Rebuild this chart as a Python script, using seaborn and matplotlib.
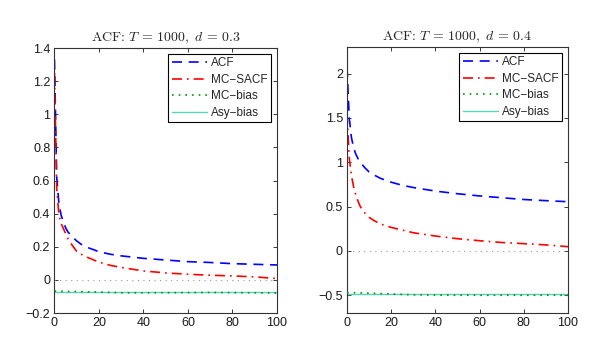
import numpy as np
import pandas as pd
import matplotlib
matplotlib.use("Agg")
import matplotlib.pyplot as plt
import seaborn as sns

sns.set_style("ticks")
plt.rcParams['font.family'] = ['Liberation Sans', 'DejaVu Sans']
plt.rcParams['mathtext.fontset'] = 'cm'
plt.rcParams['axes.unicode_minus'] = True

# ---- data ----
lags = [0, 1, 2, 3, 4, 5, 6, 8, 10, 12, 15, 20, 25, 30, 40, 50, 60, 70, 80, 90, 100]

acf_03 = [1.33, 0.62, 0.46, 0.39, 0.35, 0.315, 0.29, 0.26, 0.235, 0.215, 0.195,
          0.17, 0.155, 0.145, 0.13, 0.12, 0.11, 0.105, 0.098, 0.094, 0.09]
sacf_03 = [1.25, 0.55, 0.39, 0.34, 0.31, 0.28, 0.25, 0.208, 0.172, 0.155, 0.135,
           0.107, 0.088, 0.075, 0.054, 0.042, 0.034, 0.028, 0.024, 0.018, 0.008]
mcbias_03 = [-0.068, -0.068, -0.069, -0.069, -0.069, -0.069, -0.07, -0.07, -0.07, -0.071, -0.072,
             -0.074, -0.076, -0.078, -0.078, -0.077, -0.077, -0.076, -0.077, -0.078, -0.08]
asybias_03 = [-0.076] * len(lags)

acf_04 = [2.07, 1.50, 1.28, 1.16, 1.09, 1.04, 1.0, 0.94, 0.89, 0.86, 0.82,
          0.775, 0.74, 0.715, 0.675, 0.645, 0.62, 0.60, 0.58, 0.567, 0.555]
sacf_04 = [1.55, 1.05, 0.85, 0.72, 0.63, 0.56, 0.50, 0.43, 0.38, 0.345, 0.305,
           0.265, 0.235, 0.205, 0.168, 0.138, 0.115, 0.095, 0.082, 0.068, 0.048]
mcbias_04 = [-0.47, -0.47, -0.47, -0.471, -0.472, -0.472, -0.473, -0.474, -0.476, -0.478, -0.481,
             -0.485, -0.49, -0.495, -0.498, -0.5, -0.5, -0.5, -0.5, -0.5, -0.5]
asybias_04 = [-0.485] * len(lags)

panels = [
    dict(title=r"ACF: $T \,=\, 1000,\ d \,=\, 0.3$", acf=acf_03, sacf=sacf_03, mc=mcbias_03, asy=asybias_03,
         ylim=(-0.2, 1.4), yticks=[-0.2, 0, 0.2, 0.4, 0.6, 0.8, 1, 1.2, 1.4],
         yticklabels=["\u22120.2", "0", "0.2", "0.4", "0.6", "0.8", "1", "1.2", "1.4"],
         pos=[0.0911, 0.0794, 0.3721, 0.7794]),
    dict(title=r"ACF: $T \,=\, 1000,\ d \,=\, 0.4$", acf=acf_04, sacf=sacf_04, mc=mcbias_04, asy=asybias_04,
         ylim=(-0.7, 2.3), yticks=[-0.5, 0, 0.5, 1, 1.5, 2],
         yticklabels=["\u22120.5", "0", "0.5", "1", "1.5", "2"],
         pos=[0.5803, 0.0794, 0.3696, 0.7824]),
]

fig = plt.figure(figsize=(5.98, 3.40), dpi=100)

for p in panels:
    ax = fig.add_axes(p["pos"])
    df = pd.DataFrame({"lag": lags, "acf": p["acf"], "sacf": p["sacf"],
                       "mc": p["mc"], "asy": p["asy"]})
    ax.axhline(0, color=(0.6, 0.6, 0.6), lw=0.8, ls=(0, (1, 4)), zorder=1)
    sns.lineplot(data=df, x="lag", y="acf", ax=ax, color=(0, 0, 1), lw=1.2,
                 linestyle=(0, (6, 4)), label="ACF")
    sns.lineplot(data=df, x="lag", y="sacf", ax=ax, color=(1, 0, 0), lw=1.2,
                 linestyle=(0, (6, 3, 1, 3)), label="MC\u2212SACF")
    sns.lineplot(data=df, x="lag", y="mc", ax=ax, color=(0, 0.6, 0), lw=1.2,
                 linestyle=(0, (1, 3)), label="MC\u2212bias", zorder=3)
    sns.lineplot(data=df, x="lag", y="asy", ax=ax, color=(0.35, 0.82, 0.75), lw=1.0,
                 linestyle="-", label="Asy\u2212bias", zorder=2)
    ax.set_xlim(0, 100)
    ax.set_ylim(*p["ylim"])
    ax.set_xticks([0, 20, 40, 60, 80, 100])
    ax.set_yticks(p["yticks"])
    ax.set_yticklabels(p["yticklabels"])
    ax.set_xlabel("")
    ax.set_ylabel("")
    ax.tick_params(direction="in", length=3, width=0.6, top=True, right=True,
                   labelsize=9, pad=3, colors=(0.1, 0.1, 0.1))
    for s in ax.spines.values():
        s.set_visible(True)
        s.set_linewidth(0.8)
        s.set_color((0.2, 0.2, 0.2))
    ax.set_title(p["title"], fontsize=10, family="cmr10", pad=5)
    leg = ax.legend(loc="upper right", fontsize=8.5, handlelength=3.0, frameon=True,
                    fancybox=False, edgecolor="black", framealpha=1,
                    borderaxespad=0.5, labelspacing=0.38, handletextpad=0.3,
                    borderpad=0.3)
    leg.get_frame().set_linewidth(0.8)

fig.savefig("out.png", dpi=100)
